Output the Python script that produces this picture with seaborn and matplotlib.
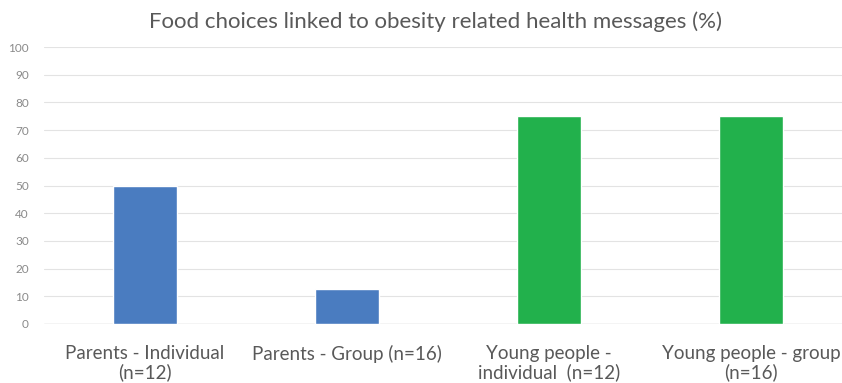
import matplotlib
matplotlib.use("Agg")
import matplotlib.pyplot as plt
import seaborn as sns
import pandas as pd

categories = ["Parents - Individual\n(n=12)", "Parents - Group (n=16)",
              "Young people -\nindividual  (n=12)", "Young people - group\n(n=16)"]
values = [50, 12.5, 75, 75]
colors = ["#4A7CC0", "#4A7CC0", "#22B14C", "#22B14C"]
yticks = list(range(0, 101, 10))
title = "Food choices linked to obesity related health messages (%)"

sns.set_style("white")
plt.rcParams['font.family'] = ['Lato', 'DejaVu Sans']

fig = plt.figure(figsize=(8.42, 3.83), dpi=100)
ax = fig.add_axes([44/842, 1-324/383, (852-44)/842, (324-47)/383])

df = pd.DataFrame({"cat": categories, "val": values})
sns.barplot(data=df, x="cat", y="val", hue="cat", palette=colors, width=0.32,
            legend=False, ax=ax, saturation=1)

ax.set_ylim(0, 100)
ax.set_xlim(-0.5, 3.5)
ax.set_yticks(yticks)
ax.set_yticklabels([str(t) for t in yticks], fontsize=8.5, color="#8a8a8a")
ax.tick_params(axis='y', length=0, pad=11)
ax.tick_params(axis='x', length=0, pad=15, labelsize=13.5, labelcolor="#595959")
for lab in ax.get_xticklabels():
    lab.set_linespacing(1.12)
ax.grid(axis='y', color="#e3e3e3", linewidth=0.8)
ax.set_axisbelow(True)
for s in ["top", "right", "left", "bottom"]:
    ax.spines[s].set_visible(False)
ax.axhline(0, color="#d0d0d0", linewidth=1.0, zorder=0.5)
ax.set_xlabel("")
ax.set_ylabel("")
fig.text(436/842, 1-22/383, title, ha="center", va="center", fontsize=16, color="#595959")

fig.savefig("out.png", dpi=100)
